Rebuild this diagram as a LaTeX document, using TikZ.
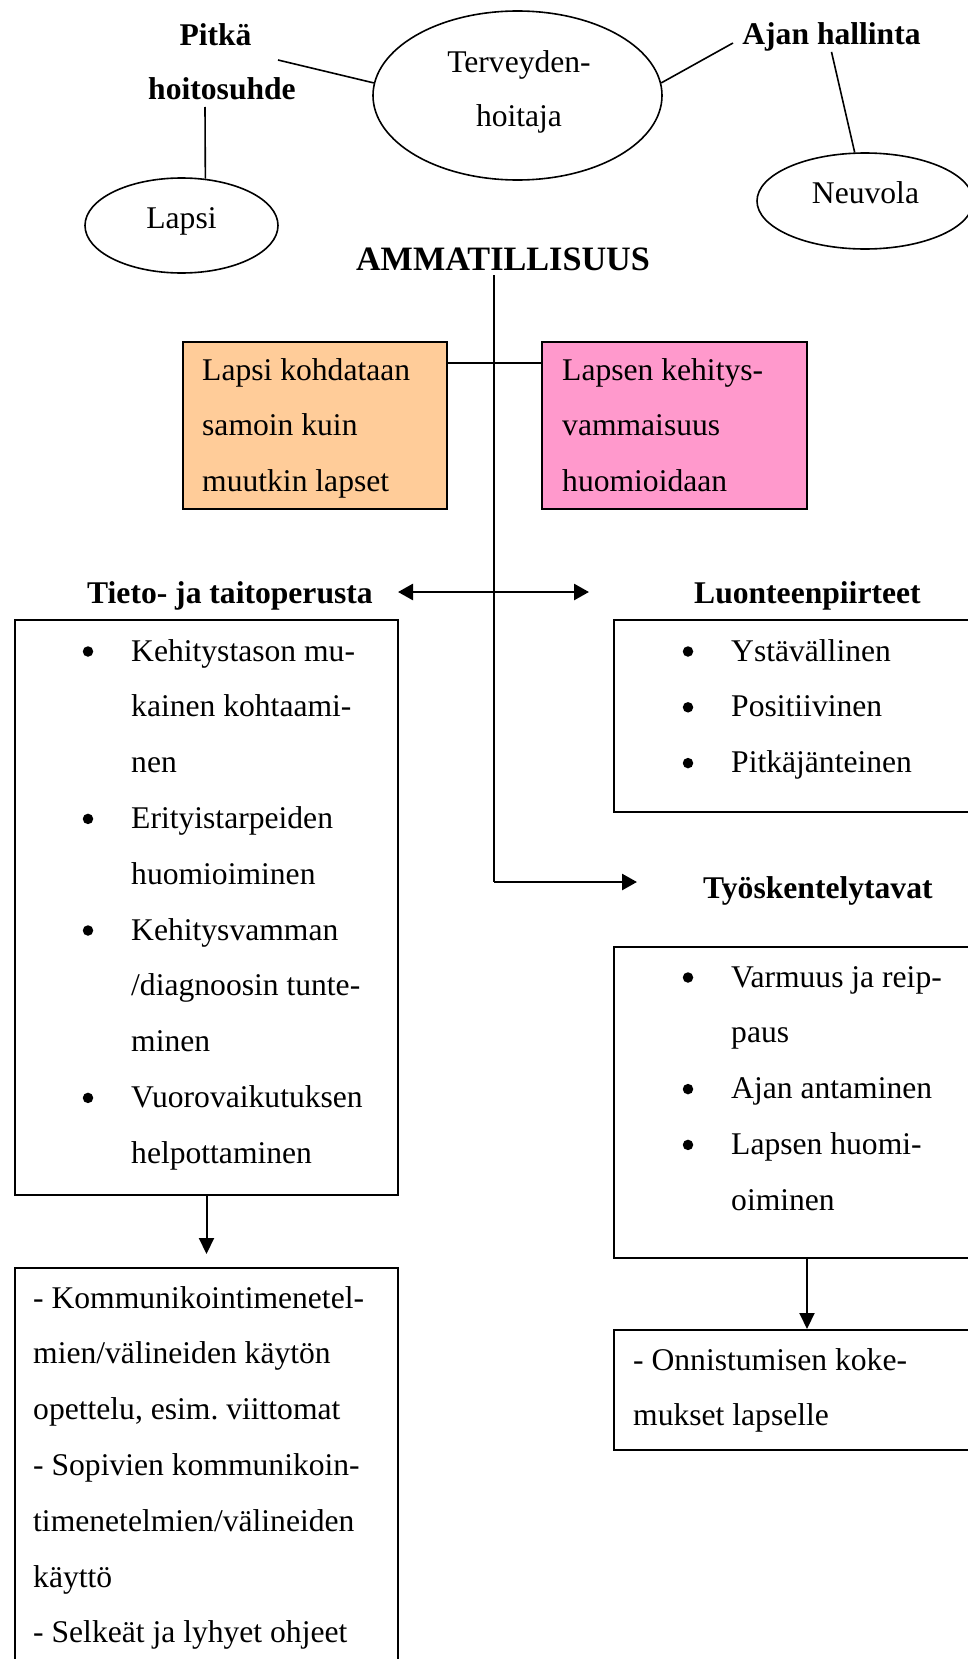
\documentclass[tikz,border=0pt]{standalone}
\usepackage{fontspec}
\setmainfont{Liberation Serif}
\usetikzlibrary{shapes.geometric,arrows.meta}
\definecolor{peach}{HTML}{FFCC99}
\definecolor{rosa}{HTML}{FF99CC}
\frenchspacing
\begin{document}
\begin{tikzpicture}[x=1pt,y=-1pt,
  txt/.style={inner sep=0pt, anchor=base west, font=\fontsize{31.6pt}{38pt}\selectfont},
  ctxt/.style={txt, anchor=base},
  btxt/.style={inner sep=0pt, anchor=base west, font=\fontsize{31.6pt}{38pt}\selectfont\bfseries},
  cbtxt/.style={btxt, anchor=base},
  ell/.style={ellipse, draw, line width=1.6pt, inner sep=0pt},
  box/.style={rectangle, draw, line width=2pt, inner sep=0pt, anchor=north west},
  conn/.style={line width=1.6pt},
  trunk/.style={line width=2pt},
  arr/.style={line width=2.7pt, -{Triangle[length=15pt,width=16pt]}},
  darr/.style={line width=2.7pt, {Triangle[length=15pt,width=16pt]}-{Triangle[length=15pt,width=16pt]}},
  varr/.style={line width=2pt, -{Triangle[length=16pt,width=15pt]}},
  bul/.style={circle, fill=black, inner sep=0pt, minimum size=10.5pt}
]
\useasboundingbox (0,0) rectangle (968,1659);
\fill[white] (0,0) rectangle (968,1659);

% top ellipses and labels
\node[ell, minimum width=289pt, minimum height=169pt] (terv) at (517.5,95.5) {};
\node[ctxt] (terv1) at (519,73) {Terveyden-};
\node[ctxt] (terv2) at (519,127) {hoitaja};
\node[ell, minimum width=193pt, minimum height=95pt] (lapsi) at (181.5,225.5) {};
\node[ctxt] (lapsit) at (181.5,228) {Lapsi};
\node[ell, minimum width=216pt, minimum height=96pt] (neuvola) at (865,201) {};
\node[ctxt] (neuvolat) at (865.5,203) {Neuvola};
\node[cbtxt] (pitka) at (215.5,46) {Pitkä};
\node[cbtxt] (hoito) at (222,100) {hoitosuhde};
\node[cbtxt] (ajan) at (831.5,45) {Ajan hallinta};
\node[cbtxt, font=\fontsize{34.2pt}{40pt}\selectfont\bfseries] (amm) at (503,270) {AMMATILLISUUS};

\coordinate (p1) at (278,60);
\coordinate (a1) at (733,43);
\coordinate (h1) at (205,107);
\draw[conn] (p1) -- (terv.175);
\draw[conn] (terv.5) -- (a1);
\draw[conn] (ajan.south) -- (neuvola.102);
\draw[conn] (h1) -- (lapsi.63);

% coloured boxes
\node[box, fill=peach, minimum width=264pt, minimum height=167pt] (orange) at (182,341) {};
\node[box, fill=rosa, minimum width=265pt, minimum height=167pt] (pink) at (541,341) {};
\node[txt] (o1) at (202,380) {Lapsi kohdataan};
\node[txt] (o2) at (202,435.8) {samoin kuin};
\node[txt] (o3) at (202,491.6) {muutkin lapset};
\node[txt] (k1) at (562,380) {Lapsen kehitys-};
\node[txt] (k2) at (562,435.8) {vammaisuus};
\node[txt] (k3) at (562,491.6) {huomioidaan};

% trunk
\coordinate (t0) at (494,275);
\coordinate (t1) at (494,882);
\coordinate (tyotip) at (637,882);
\coordinate (d1) at (398,592);
\coordinate (d2) at (589,592);
\draw[trunk] (t0) -- (t1);
\draw[conn] ([yshift=-22pt]orange.north east) -- ([yshift=-22pt]pink.north west);
\draw[darr] (d1) -- (d2);
\draw[arr] (t1) -- (tyotip);

% headers
\node[btxt] (tieto) at (87,603) {Tieto- ja taitoperusta};
\node[btxt] (luonne) at (694,603) {Luonteenpiirteet};
\node[btxt] (tyo) at (703,898) {Työskentelytavat};

% boxes
\node[box, minimum width=383pt, minimum height=575pt] (tbox) at (14,619) {};
\node[box, minimum width=386pt, minimum height=192pt] (lbox) at (613,619) {};
\node[box, minimum width=386pt, minimum height=311pt] (wbox) at (613,946) {};
\node[box, minimum width=386pt, minimum height=120pt] (obox) at (613,1329) {};
\node[box, minimum width=383pt, minimum height=430pt] (kbox) at (14,1267) {};

\draw[varr, shorten >=13pt] (tbox.south) -- (kbox.north);
\draw[varr] (wbox.south) -- (obox.north);

% Tieto box content
\node[bul] (tb1) at (88,651.5) {};
\node[bul] (tb2) at (88,818.9) {};
\node[bul] (tb3) at (88,930.5) {};
\node[bul] (tb4) at (88,1097.9) {};
\node[txt] (t01) at (131,661) {Kehitystason mu-};
\node[txt] (t02) at (131,716.8) {kainen kohtaami-};
\node[txt] (t03) at (131,772.6) {nen};
\node[txt] (t04) at (131,828.4) {Erityistarpeiden};
\node[txt] (t05) at (131,884.2) {huomioiminen};
\node[txt] (t06) at (131,940) {Kehitysvamman};
\node[txt] (t07) at (131,995.8) {/diagnoosin tunte-};
\node[txt] (t08) at (131,1051.6) {minen};
\node[txt] (t09) at (131,1107.4) {Vuorovaikutuksen};
\node[txt] (t10) at (131,1163.2) {helpottaminen};

% Luonne content
\node[bul] (lb1) at (688,651.5) {};
\node[bul] (lb2) at (688,707.3) {};
\node[bul] (lb3) at (688,763.1) {};
\node[txt] (l1) at (731,661) {Ystävällinen};
\node[txt] (l2) at (731,716.8) {Positiivinen};
\node[txt] (l3) at (731,772.6) {Pitkäjänteinen};

% Tyo content
\node[bul] (wb1) at (688,977.5) {};
\node[bul] (wb2) at (688,1089.1) {};
\node[bul] (wb3) at (688,1144.9) {};
\node[txt] (w1) at (731,987) {Varmuus ja reip-};
\node[txt] (w2) at (731,1042.8) {paus};
\node[txt] (w3) at (731,1098.6) {Ajan antaminen};
\node[txt] (w4) at (731,1154.4) {Lapsen huomi-};
\node[txt] (w5) at (731,1210.2) {oiminen};

% Onnistumisen
\node[txt] (on1) at (633,1370) {- Onnistumisen koke-};
\node[txt] (on2) at (633,1425.8) {mukset lapselle};

% Kommunikointi
\node[txt] (km1) at (33,1308) {- Kommunikointimenetel-};
\node[txt] (km2) at (33,1363.8) {mien/välineiden käytön};
\node[txt] (km3) at (33,1419.6) {opettelu, esim. viittomat};
\node[txt] (km4) at (33,1475.4) {- Sopivien kommunikoin-};
\node[txt] (km5) at (33,1531.2) {timenetelmien/välineiden};
\node[txt] (km6) at (33,1587) {käyttö};
\node[txt] (km7) at (33,1642.8) {- Selkeät ja lyhyet ohjeet};
\end{tikzpicture}
\end{document}
